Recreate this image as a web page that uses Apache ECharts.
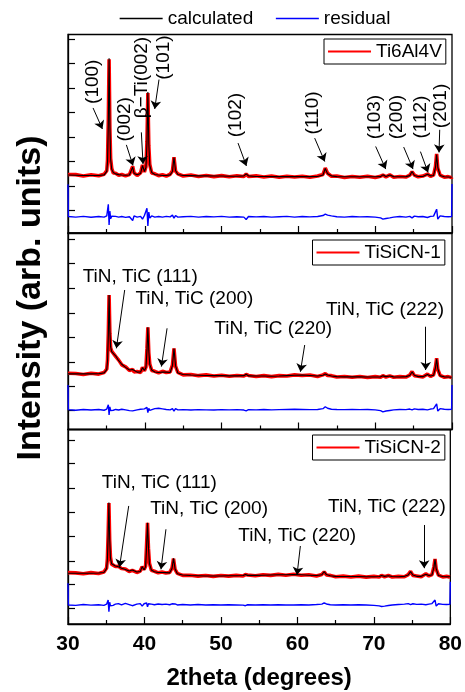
<!DOCTYPE html>
<html><head><meta charset="utf-8">
<script src="https://cdn.jsdelivr.net/npm/echarts@6/dist/echarts.min.js"></script>
<style>html,body{margin:0;padding:0;background:#fff}#c{width:465px;height:692px}</style>
</head><body><div id="c"></div>
<script>
// 2theta sampling (degrees)
const twoTheta = [
 30.0,30.05,31.0,32.0,33.0,34.0,34.7,35.05,35.15,35.25,
 35.35,35.45,35.55,35.7,35.9,36.2,36.6,37.0,37.5,38.0,
 38.25,38.42,38.6,39.0,39.45,39.7,39.95,40.15,40.28,40.4,
 40.52,40.65,40.9,41.3,41.8,42.3,42.8,43.3,43.6,43.8,
 44.0,44.3,45.0,46.0,47.0,48.0,49.0,50.0,51.0,52.0,
 52.9,53.2,53.5,54.5,55.5,56.5,57.5,58.5,59.5,60.5,
 61.5,62.5,63.2,63.5,63.8,64.3,65.0,66.0,67.0,68.0,
 69.0,70.0,70.7,71.0,71.4,71.9,72.4,73.2,74.0,74.5,
 74.8,75.1,75.6,76.2,76.8,77.2,77.6,77.85,78.0,78.15,
 78.45,79.0,79.5,79.95,80.0
];
// Ti6Al4V (arb. units, offset per panel)
const obsTi6Al4V = [
 29.5,29.0,29.4,28.7,29.3,28.8,29.6,31.4,37,57,
 87.5,53,37.5,32.4,30.2,30.1,29.1,29.5,28.8,29.4,
 29.7,33.6,30.3,29.0,30.3,34.3,30.7,33.4,46,70.5,
 44,34.5,30.2,29.8,28.9,29.3,28.7,29.6,31.3,38.2,
 31.2,29.8,28.7,29.2,28.5,29.0,28.4,28.9,28.3,28.8,
 28.5,29.7,28.5,28.8,28.2,28.7,28.1,28.6,28.2,28.6,
 28.1,28.7,29.5,32.7,30.1,28.6,28.7,28.0,28.5,28.1,
 28.6,28.0,28.6,29.2,28.3,29.3,28.1,28.5,28.2,29.1,
 30.9,29.2,28.3,28.7,29.7,28.6,29.2,33.5,39.8,32.6,
 29.2,28.1,28.4,27.9,28.2
];
const calcTi6Al4V = [
 29.2,29.2,29.1,29.0,29.0,29.0,29.3,31,36,55,
 88,55,37,32,30.5,29.8,29.4,29.2,29.1,29.2,
 30.0,33.2,30.0,29.3,30.0,34.0,31.0,33.0,45,71,
 45,34,30.5,29.5,29.2,29.0,29.0,29.3,31.0,38.0,
 31.5,29.5,29.0,28.9,28.8,28.8,28.7,28.7,28.6,28.6,
 28.8,29.8,28.8,28.5,28.5,28.4,28.4,28.4,28.4,28.4,
 28.4,28.5,29.2,32.5,29.8,28.8,28.4,28.3,28.3,28.3,
 28.3,28.3,28.4,29.3,28.5,29.2,28.4,28.3,28.4,28.9,
 31.0,29.0,28.5,28.5,29.6,28.8,29.0,33,39.5,33,
 29.0,28.3,28.2,28.1,28.1
];
const resTi6Al4V = [
 24.5,8.3,8.0,8.4,7.9,8.3,8.0,8.6,9.5,14.5,
 4.0,11.0,7.2,8.5,7.8,8.4,8.0,8.3,7.9,8.2,
 8.0,6.3,8.6,8.0,8.4,7.0,8.8,9.5,12.5,3.5,
 10.5,7.5,8.6,8.0,8.3,8.0,8.4,8.1,9.0,7.5,
 8.8,8.0,8.2,8.4,8.0,8.3,8.1,8.4,8.0,8.2,
 8.0,6.8,8.3,8.1,8.3,8.0,8.2,8.4,8.0,8.3,
 8.1,8.3,8.8,9.5,9.0,8.6,8.2,8.0,8.3,8.1,
 8.2,8.0,7.6,7.0,7.3,7.6,8.0,8.3,8.0,8.4,
 7.6,8.5,8.2,8.3,7.8,8.4,8.5,9.5,12.0,7.0,
 8.6,8.3,8.2,8.3,24.7
];
// TiSiCN-1
const obsTiSiCN1 = [
 28.6,28.1,28.5,28.0,28.6,28.2,29.0,30.8,35.5,49,
 68.4,49,41.5,39.8,39.2,37.2,35.3,32.9,31.9,30.0,
 30.1,30.6,29.3,29.5,29.0,31.6,29.8,31.8,41,52,
 39,33.3,30.0,29.6,28.8,29.6,29.0,29.3,32.8,41.3,
 32.2,29.1,27.8,28.0,27.4,27.8,27.2,27.6,27.1,27.5,
 27.2,28.0,27.5,27.0,27.4,26.9,27.4,27.2,27.8,27.5,
 27.7,27.0,27.8,28.4,27.5,27.4,26.7,27.0,26.6,27.0,
 26.5,26.9,26.6,27.4,26.7,27.3,26.6,26.9,26.7,27.7,
 29.5,27.4,27.1,26.7,28.2,27.0,27.8,32.0,36.3,30.6,
 27.5,26.6,26.9,26.4,26.7
];
const calcTiSiCN1 = [
 28.3,28.3,28.3,28.3,28.3,28.4,28.8,30.5,35,48,
 68.5,50,42,39.5,39.0,37.5,35.0,33.2,31.6,30.3,
 29.8,30.5,29.5,29.2,29.3,31.5,30.0,31.5,40,52,
 40,33,30.3,29.3,29.0,29.3,29.2,29.0,32.5,41.2,
 32.5,28.8,28.0,27.7,27.6,27.5,27.4,27.4,27.3,27.3,
 27.4,28.1,27.3,27.2,27.2,27.1,27.2,27.4,27.6,27.7,
 27.5,27.2,27.6,28.3,27.7,27.2,26.9,26.8,26.8,26.8,
 26.7,26.7,26.8,27.3,26.9,27.2,26.8,26.7,26.9,27.5,
 29.3,27.6,26.9,26.9,28.0,27.2,27.6,31.5,36.0,31.0,
 27.3,26.8,26.7,26.6,26.6
];
const resTiSiCN1 = [
 22.6,10.1,9.8,10.2,9.9,10.2,9.8,10.4,11.0,12.6,
 7.4,11.5,9.6,10.3,9.8,10.2,9.9,10.3,10.0,9.6,
 10.3,9.5,10.4,10.0,10.3,9.4,10.5,10.2,11.3,8.6,
 10.8,9.7,10.2,10.6,10.8,10.5,10.2,10.0,10.6,9.4,
 10.6,10.0,10.1,9.9,10.1,10.0,9.9,10.1,10.0,10.1,
 9.9,9.5,10.1,10.0,10.2,10.0,10.1,10.2,10.3,10.2,
 10.1,10.2,10.6,11.6,10.8,10.3,10.2,10.1,10.2,10.1,
 10.2,10.0,9.6,9.0,9.4,9.7,10.0,10.2,10.1,10.4,
 10.0,10.5,10.2,10.3,10.0,10.4,10.6,11.5,13.0,9.4,
 10.6,10.3,10.2,10.3,22.6
];
// TiSiCN-2
const obsTiSiCN2 = [
 26.4,25.9,26.3,25.8,26.4,26.0,26.7,28.8,33.5,46,
 62.2,43,34.4,30.8,30.5,29.6,29.7,28.5,28.3,27.0,
 27.3,27.6,27.0,26.5,27.2,29.4,28.0,29.7,41,52,
 39,31.2,27.6,27.1,26.3,26.7,26.2,26.5,28.7,33.6,
 28.1,26.0,25.0,25.1,24.6,24.9,24.5,24.9,24.6,25.0,
 24.7,25.4,25.2,24.8,25.3,25.0,25.5,25.1,25.6,25.1,
 25.3,24.7,25.5,26.8,25.2,25.0,24.3,24.6,24.2,24.6,
 24.1,24.5,24.2,25.0,24.3,24.9,24.2,24.5,24.3,25.4,
 27.1,25.0,24.7,24.3,25.8,24.7,25.4,29.4,33.4,28.2,
 25.1,24.2,24.5,24.1,24.4
];
const calcTiSiCN2 = [
 26.1,26.1,26.1,26.1,26.1,26.2,26.5,28.5,33,45,
 62.4,44,34,31,30.2,29.8,29.4,28.7,28.0,27.2,
 27.0,27.8,26.8,26.7,27.0,29.5,27.8,29.5,40,52.1,
 40,31,27.8,26.9,26.5,26.5,26.4,26.3,28.5,33.8,
 28.3,25.8,25.2,24.9,24.8,24.7,24.7,24.7,24.8,24.8,
 24.9,25.5,25.0,25.0,25.1,25.2,25.3,25.3,25.4,25.3,
 25.1,24.9,25.3,26.9,25.4,24.8,24.5,24.4,24.4,24.4,
 24.3,24.3,24.4,24.9,24.5,24.8,24.4,24.3,24.5,25.2,
 26.9,25.2,24.5,24.5,25.6,24.9,25.2,29.0,33.3,28.5,
 24.9,24.4,24.3,24.3,24.3
];
const resTiSiCN2 = [
 21.0,9.8,9.6,10.0,9.7,9.9,9.6,10.2,10.8,12.3,
 6.3,11.2,9.3,10.1,9.6,10.2,10.5,9.8,10.6,10.0,
 10.6,9.4,10.4,10.2,10.5,9.2,10.4,10.0,10.8,8.8,
 10.4,9.8,10.2,9.9,10.3,10.0,10.2,9.9,10.4,9.4,
 10.3,9.8,10.0,9.8,10.0,9.8,9.9,9.8,9.9,9.8,
 9.7,9.4,9.9,9.8,9.9,9.8,9.9,9.8,9.8,9.9,
 9.8,10.0,10.2,10.8,10.3,9.9,9.8,9.9,9.8,9.9,
 9.8,9.6,9.3,9.0,9.2,9.5,9.8,10.0,10.2,10.5,
 10.0,10.4,10.1,10.2,9.9,10.2,10.5,11.2,12.3,9.2,
 10.4,10.1,10.0,10.1,21.7
];
const sampleNames = ['Ti6Al4V','TiSiCN-1','TiSiCN-2'];
const xTicks = [30,40,50,60,70,80];
// y tick positions per panel (arb. units)
const yTicks = [
 [11.4,23.7,36.0,48.3,60.6,72.9,85.3,97.6],
 [9.9,21.8,34.0,46.9,59.1,71.9,84.6,96.8],
 [8.1,20.6,32.5,44.9,57.2,69.8,82.6,94.6]
];
// peak annotations: text, text centre, arrow start, arrow tip (data coords)
const notesTi6Al4V = [
 ['(100)',[33.26,76.2],[33.26,63],[34.48,52.4]],
 ['(002)',[37.38,57.3],[37.6,44.4],[38.46,34.0]],
 ['\u03b2\u2212Ti(002)',[39.66,78.3],[39.55,50.7],[39.77,34.8]],
 ['(101)',[42.49,88.4],[41.85,77.3],[41.29,62.5]],
 ['(102)',[51.8,59.4],[52.14,45.3],[53.23,33.8]],
 ['(110)',[61.9,60.5],[62.12,47.8],[63.43,36]],
 ['(103)',[69.93,58.4],[70.06,43.6],[71.37,32.2]],
 ['(200)',[72.86,58.4],[73.71,43.3],[74.92,32.2]],
 ['(112)',[75.9,58.4],[75.89,41],[76.88,30.5]],
 ['(201)',[78.5,64.0],[78.4,52],[78.31,40.6]]
];
const notesTiSiCN1 = [
 ['TiN, TiC (111)',[39.4,77.9],[37.38,71],[36.3,41.3]],
 ['TiN, TiC (200)',[46.46,66.4],[42.9,51.5],[42.16,32.0]],
 ['TiN, TiC (220)',[56.72,51.1],[60.82,43.0],[60.26,29.4]],
 ['TiN, TiC (222)',[71.28,60.8],[76.58,52.3],[76.58,30.3]]
];
const notesTiSiCN2 = [
 ['TiN, TiC (111)',[41.94,72.5],[37.94,60.7],[36.73,29.2]],
 ['TiN, TiC (200)',[48.45,59.1],[42.81,48.7],[42.16,28.1]],
 ['TiN, TiC (220)',[59.97,45.5],[60.39,40.1],[59.95,25.2]],
 ['TiN, TiC (222)',[71.72,60.4],[76.58,50.9],[76.58,28.7]]
];

const FONT = "'Liberation Sans', Arial, Helvetica, sans-serif";
const obsAll = [obsTi6Al4V, obsTiSiCN1, obsTiSiCN2];
const calcAll = [calcTi6Al4V, calcTiSiCN1, calcTiSiCN2];
const resAll = [resTi6Al4V, resTiSiCN1, resTiSiCN2];
const notesAll = [notesTi6Al4V, notesTiSiCN1, notesTiSiCN2];
const pairs = arr => twoTheta.map((x, i) => [x, arr[i]]);

const gridBoxes = [
 {top: 34.5, height: 198.5},
 {top: 233, height: 196.5},
 {top: 429.5, height: 194.5}
];
const legendTops = [39, 240, 435];
const legendLefts = [324, 312.5, 312.5];
const noSymbol = {color: 'rgba(0,0,0,0)', borderWidth: 0, opacity: 0};

const grids = [], xAxes = [], yAxes = [], series = [];
const legends = [{
  data: ['calculated', 'residual'], left: 119, top: 9, padding: 0,
  itemWidth: 43, itemHeight: 12, itemGap: 22, selectedMode: false,
  textStyle: {fontSize: 19, color: '#000', fontFamily: FONT},
  lineStyle: {width: 1.3}, itemStyle: noSymbol
}];
for (let i = 0; i < 3; i++) {
  grids.push({left: 68, width: 384, top: gridBoxes[i].top, height: gridBoxes[i].height,
    show: true, borderColor: '#000', borderWidth: 1.3, backgroundColor: 'transparent'});
  const last = i === 2;
  xAxes.push({type: 'value', gridIndex: i, min: 30, max: 80, interval: 10,
    axisLine: {show: true, lineStyle: {color: '#000', width: 1.3}},
    axisTick: {show: true, inside: true, length: 7, lineStyle: {color: '#000', width: 1.2}},
    minorTick: {show: true, splitNumber: 2, length: 4, lineStyle: {color: '#000', width: 1.2}},
    splitLine: {show: false},
    axisLabel: {show: last, margin: 10, fontSize: 21, fontWeight: 'bold', color: '#000', fontFamily: FONT},
    name: last ? '2theta (degrees)' : '', nameLocation: 'middle', nameGap: 42,
    nameTextStyle: {fontSize: 24, fontWeight: 'bold', color: '#000', fontFamily: FONT}
  });
  yAxes.push({type: 'value', gridIndex: i, min: 0, max: 100,
    axisLine: {show: true, lineStyle: {color: '#000', width: 1.3}},
    axisTick: {show: true, inside: true, length: 7, customValues: yTicks[i], lineStyle: {color: '#000', width: 1.2}},
    axisLabel: {show: false}, splitLine: {show: false}
  });
  series.push({name: sampleNames[i], type: 'line', xAxisIndex: i, yAxisIndex: i,
    data: pairs(obsAll[i]), symbol: 'none', showSymbol: false, silent: true, z: 2,
    lineStyle: {color: '#ff0000', width: 3.6}, itemStyle: {color: '#ff0000'}});
  series.push({name: 'calculated', type: 'line', xAxisIndex: i, yAxisIndex: i,
    data: pairs(calcAll[i]), symbol: 'none', showSymbol: false, silent: true, z: 3,
    lineStyle: {color: '#000', width: 1.1}, itemStyle: {color: '#000'},
    markLine: {silent: true, symbol: ['none', 'arrow'], symbolSize: 8,
      lineStyle: {color: '#000', width: 1, type: 'solid'}, label: {show: false},
      emphasis: {disabled: true},
      data: notesAll[i].map(n => [{coord: n[2]}, {coord: n[3]}])},
    markPoint: {silent: true, symbol: 'circle', symbolSize: 0,
      label: {show: true, position: 'inside', formatter: '{b}', color: '#000', fontSize: 19,
        fontFamily: FONT, rotate: i === 0 ? 90 : 0},
      data: notesAll[i].map(n => ({name: n[0], coord: n[1]}))}
  });
  series.push({name: 'residual', type: 'line', xAxisIndex: i, yAxisIndex: i,
    data: pairs(resAll[i]), symbol: 'none', showSymbol: false, silent: true, z: 3,
    lineStyle: {color: '#0000ff', width: 1.4}, itemStyle: {color: '#0000ff'}});
  legends.push({data: [sampleNames[i]], left: legendLefts[i], top: legendTops[i],
    padding: [3, 4, 3, 3], borderColor: '#000', borderWidth: 1, backgroundColor: '#fff',
    itemWidth: 43, itemHeight: 14, selectedMode: false,
    textStyle: {fontSize: 19, color: '#000', fontFamily: FONT},
    lineStyle: {width: 2}, itemStyle: noSymbol});
}

const chart = echarts.init(document.getElementById('c'), null, {renderer: 'canvas'});
chart.setOption({
  animation: false,
  backgroundColor: '#fff',
  grid: grids, xAxis: xAxes, yAxis: yAxes, series: series, legend: legends,
  graphic: [{type: 'text', x: 31, y: 298, rotation: Math.PI / 2,
    style: {text: 'Intensity (arb. units)', font: "bold 34px " + FONT, fill: '#000',
      textAlign: 'center', textVerticalAlign: 'middle'}}]
});
</script></body></html>
